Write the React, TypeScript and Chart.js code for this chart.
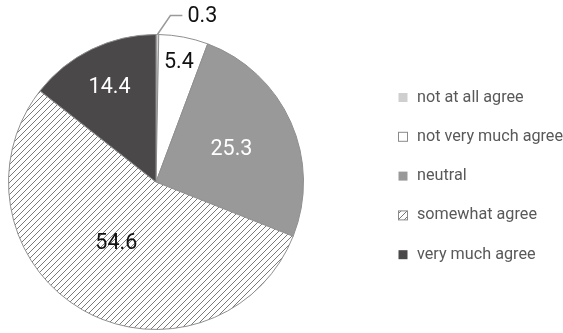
import React, { useEffect, useRef } from "react";
import { Chart, registerables } from "chart.js";

Chart.register(...registerables);

// Survey answers and their shares (%)
const CATEGORIES = [
  "not at all agree",
  "not very much agree",
  "neutral",
  "somewhat agree",
  "very much agree",
];
const SHARES = [0.3, 5.4, 25.3, 54.6, 14.4];

// Slice appearance
const FILLS = ["#cfcfcf", "#ffffff", "#999999", "hatch", "#4a4848"];
const LABEL_COLORS = ["#111111", "#111111", "#ffffff", "#111111", "#ffffff"];
// Where each value label sits along its slice's middle ray (fraction of radius);
// null = label placed outside with a leader line.
const LABEL_RADIUS: (number | null)[] = [null, 0.83, 0.56, 0.49, 0.72];
// Small angular nudge for each label (radians, clockwise)
const LABEL_TURN = [0, 0, 0, 0.06, 0];

const LABEL_FONT = "21.5px Roboto";
const LEGEND_FONT = "16.2px Roboto";

function makeHatch(): CanvasPattern | string {
  const s = 6;
  const c = document.createElement("canvas");
  c.width = s;
  c.height = s;
  const g = c.getContext("2d");
  if (!g) return "#ffffff";
  g.fillStyle = "#ffffff";
  g.fillRect(0, 0, s, s);
  g.strokeStyle = "#7a7a7a";
  g.lineWidth = 1;
  g.beginPath();
  g.moveTo(0, s);
  g.lineTo(s, 0);
  g.moveTo(-1, 1);
  g.lineTo(1, -1);
  g.moveTo(s - 1, s + 1);
  g.lineTo(s + 1, s - 1);
  g.stroke();
  return g.createPattern(c, "repeat") || "#ffffff";
}

const valueLabels = {
  id: "valueLabels",
  afterDatasetsDraw(chart: any) {
    const ctx: CanvasRenderingContext2D = chart.ctx;
    const meta = chart.getDatasetMeta(0);
    const values: number[] = chart.data.datasets[0].data;
    ctx.save();
    ctx.font = LABEL_FONT;
    ctx.textBaseline = "middle";
    meta.data.forEach((arc: any, i: number) => {
      const p = arc.getProps(["x", "y", "startAngle", "endAngle", "outerRadius"], true);
      const mid = (p.startAngle + p.endAngle) / 2 + LABEL_TURN[i];
      const text = values[i].toFixed(1);
      const frac = LABEL_RADIUS[i];
      ctx.fillStyle = LABEL_COLORS[i];
      if (frac === null) {
        const sx = p.x + Math.cos(mid) * p.outerRadius;
        const sy = p.y + Math.sin(mid) * p.outerRadius;
        const ex = sx + 13;
        const ey = sy - 19;
        ctx.strokeStyle = "#9a9a9a";
        ctx.lineWidth = 1.5;
        ctx.beginPath();
        ctx.moveTo(sx, sy);
        ctx.lineTo(ex, ey);
        ctx.lineTo(ex + 12, ey);
        ctx.stroke();
        ctx.textAlign = "left";
        ctx.fillText(text, ex + 17, ey + 1);
      } else {
        const r = p.outerRadius * frac;
        ctx.textAlign = "center";
        ctx.fillText(text, p.x + Math.cos(mid) * r, p.y + Math.sin(mid) * r + 1);
      }
    });
    ctx.restore();
  },
};

const sideLegend = {
  id: "sideLegend",
  afterDraw(chart: any) {
    const ctx: CanvasRenderingContext2D = chart.ctx;
    const ds = chart.data.datasets[0];
    const labels: string[] = chart.data.labels;
    const area = chart.chartArea;
    const boxX = area.right + 94.5;
    const firstY = 97.5;
    const step = 39.3;
    const box = 9;
    ctx.save();
    ctx.font = LEGEND_FONT;
    ctx.textBaseline = "middle";
    ctx.textAlign = "left";
    labels.forEach((label, i) => {
      const cy = firstY + i * step;
      const fill = ds.backgroundColor[i];
      ctx.fillStyle = fill;
      ctx.fillRect(boxX, cy - box / 2, box, box);
      if (fill === "#ffffff" || typeof fill !== "string") {
        ctx.strokeStyle = "#8a8a8a";
        ctx.lineWidth = 1;
        ctx.strokeRect(boxX, cy - box / 2, box, box);
      }
      ctx.fillStyle = "#595959";
      ctx.fillText(label, boxX + 18.5, cy);
    });
    ctx.restore();
  },
};

export default function App() {
  const ref = useRef<HTMLCanvasElement | null>(null);

  useEffect(() => {
    if (!ref.current) return;
    const hatch = makeHatch();
    const colors = FILLS.map((f) => (f === "hatch" ? hatch : f));
    const chart = new Chart(ref.current, {
      type: "pie",
      data: {
        labels: CATEGORIES,
        datasets: [
          {
            data: SHARES,
            backgroundColor: colors as any,
            borderColor: "#8f8f8f",
            borderWidth: 1,
          },
        ],
      },
      options: {
        responsive: false,
        animation: false,
        devicePixelRatio: 1,
        layout: { padding: { left: 8, top: 34, right: 259, bottom: 3 } },
        plugins: {
          legend: { display: false },
          tooltip: { enabled: false },
        },
      },
      plugins: [valueLabels, sideLegend],
    });
    return () => chart.destroy();
  }, []);

  return (
    <div style={{ position: "absolute", left: 0, top: 0, width: 563, height: 333, background: "#fff" }}>
      <canvas ref={ref} width={563} height={333} style={{ display: "block" }} />
    </div>
  );
}
